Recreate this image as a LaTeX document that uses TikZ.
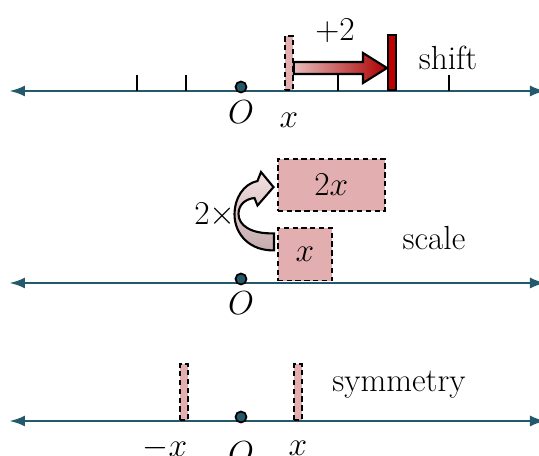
\RequirePackage{fix-cm}
\documentclass[tikz,border=0pt]{standalone}
\usepackage{amsmath}
\usepackage{fontspec}
\usepackage{tikz}
\usetikzlibrary{arrows.meta,calc,positioning}
\definecolor{azuleje}{RGB}{35,89,106}
\definecolor{rosa}{RGB}{227,174,176}
\definecolor{rosaclaro}{RGB}{244,224,225}
\definecolor{malva}{RGB}{196,170,173}
\definecolor{rojo}{RGB}{192,0,0}
\tikzset{
  eje/.style={
    draw=azuleje,
    line width=1.6pt,
    {Latex[length=3.2mm,width=2.2mm]}-{Latex[length=3.2mm,width=2.2mm]}
  },
  marca/.style={
    line width=1pt
  },
  punto/.style={
    circle,
    draw=black,
    fill=azuleje,
    line width=1pt,
    minimum size=0.22cm,
    inner sep=0pt
  },
  barra/.style={
    draw=black,
    dash pattern=on 3pt off 2pt,
    fill=rosa,
    line width=1pt,
    minimum width=0.16cm,
    inner sep=0pt,
    anchor=south
  },
  tope/.style={
    draw=black,
    fill=rojo,
    line width=1.1pt,
    minimum width=0.16cm,
    inner sep=0pt,
    anchor=south
  },
  caja/.style={
    draw=black,
    dash pattern=on 3pt off 2pt,
    fill=rosa,
    line width=1pt,
    inner sep=0pt,
    anchor=south west
  },
  flecha/.style={
    draw=black,
    line width=1.2pt,
    left color=rosa!85!white,
    right color=rojo!90!black
  },
  curva/.style={
    draw=black,
    line width=1.2pt,
    top color=rosaclaro,
    bottom color=malva
  }
}

\begin{document}
\begin{tikzpicture}[font=\fontsize{19}{22}\selectfont]
\useasboundingbox (-4.82,0) rectangle (5.96,9.12);

% shift
\begin{scope}[yshift=7.3cm]
\coordinate (i1) at (-4.64,0);
\coordinate (d1) at (6.1,0);
\draw[eje] (i1) -- (d1);
\foreach \t in {-2.08,-1.1,1.94,4.16}
  \draw[marca] (\t,0) -- ++(0,0.32);
\node[punto] (o1) at (0,0.08) {};
\node at (0,-0.42) {$O$};
\node[barra,minimum height=1.08cm] (x1) at (0.96,0) {};
\node at (0.96,-0.58) {$x$};
\node[tope,minimum height=1.1cm] (r1) at (3.02,0) {};
\path (x1.south east) ++(0,0.46) coordinate (p1);
\path (r1.south west) ++(0,0.46) coordinate (p2);
\draw[flecha] ($(p1)+(0,-0.12)$) -- ($(p1)+(0,0.12)$)
  -- ($(p2)+(-0.48,0.12)$) -- ($(p2)+(-0.48,0.3)$) -- (p2)
  -- ($(p2)+(-0.48,-0.3)$) -- ($(p2)+(-0.48,-0.12)$) -- cycle;
\node at (1.88,1.2) {$+2$};
\node at (4.14,0.66) {shift};
\end{scope}

% scale
\begin{scope}[yshift=3.46cm]
\coordinate (i2) at (-4.64,0);
\coordinate (d2) at (6.1,0);
\draw[eje] (i2) -- (d2);
\node[punto] (o2) at (0,0.08) {};
\node at (0,-0.4) {$O$};
\node[caja,minimum width=1.08cm,minimum height=1.05cm] (cx) at (0.72,0.03) {$x$};
\node[caja,minimum width=2.14cm,minimum height=1.04cm] (c2x) at (0.72,1.42) {$2x$};
\draw[curva] ($(cx.west)+(-0.06,0.42)$)
  .. controls (0.2,0.98) and (-0.05,1.15) .. (-0.05,1.38)
  .. controls (-0.05,1.56) and (0.08,1.68) .. (0.27,1.7)
  -- (0.33,1.55) -- ($(c2x.west)+(-0.07,-0.04)$) -- (0.4,2.22) -- (0.33,2.04)
  .. controls (0.04,1.98) and (-0.13,1.68) .. (-0.13,1.38)
  .. controls (-0.13,0.95) and (0.2,0.64) .. ($(cx.west)+(-0.06,0.08)$)
  -- cycle;
\node at (-0.52,1.36) {$2\times$};
\node at (3.86,0.9) {scale};
\end{scope}

% symmetry
\begin{scope}[yshift=0.7cm]
\coordinate (i3) at (-4.64,0);
\coordinate (d3) at (6.1,0);
\draw[eje] (i3) -- (d3);
\node[punto] (o3) at (0,0.08) {};
\node at (0,-0.64) {$O$};
\node[barra,minimum height=1.12cm] (xm) at (-1.14,0) {};
\node[barra,minimum height=1.12cm] (xp) at (1.14,0) {};
\node at (-1.52,-0.54) {$-x$};
\node at (1.14,-0.54) {$x$};
\node at (3.16,0.72) {symmetry};
\end{scope}
\end{tikzpicture}
\end{document}
